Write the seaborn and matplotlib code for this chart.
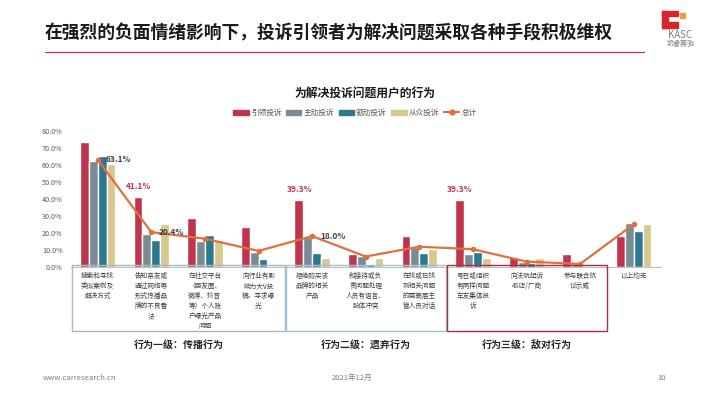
import numpy as np
import pandas as pd
import matplotlib.pyplot as plt
import seaborn as sns
from matplotlib.patches import Rectangle
from matplotlib.lines import Line2D

sns.set_style('white')
plt.rcParams['font.family'] = ['Noto Sans CJK SC', 'DejaVu Sans']

# data
categories = ['搜索和寻找\n类似案例及\n解决方式',
              '告知亲友或\n通过网络等\n形式传播品\n牌的不良看\n法',
              '在社交平台\n（朋友圈、\n微博、抖音\n等）个人账\n户曝光产品\n问题',
              '向行业有影\n响力大V投\n稿，寻求曝\n光',
              '拒绝购买该\n品牌的相关\n产品',
              '和接待或负\n责问题处理\n人员有语言、\n肢体冲突',
              '在找或已找\n到相关问题\n的更高层主\n管人员对话',
              '号召或组织\n有同样问题\n车友集体投\n诉',
              '向法院起诉\n4S店/厂商',
              '参与联合抗\n议示威',
              '以上均无']
series = ['引领投诉', '主动投诉', '驱动投诉', '从众投诉']
lead = [73.3, 41.1, 28.9, 23.6, 39.3, 7.3, 18.1, 39.3, 5.5, 7.3, 18.1]
active = [62.1, 19.3, 15.3, 8.5, 17.7, 6.1, 11.4, 7.5, 3.0, 1.4, 26.0]
driven = [65.3, 15.9, 18.5, 4.4, 8.3, 1.4, 8.1, 8.8, 2.0, 0.0, 21.2]
follow = [60.4, 25.2, 15.7, 0.0, 5.1, 5.1, 10.4, 5.1, 5.1, 0.0, 25.2]
total = [63.1, 20.4, 16.5, 9.3, 18.0, 6.0, 11.8, 10.3, 3.0, 1.6, 25.0]
levels = ['行为一级：传播行为', '行为二级：遗弃行为', '行为三级：敌对行为']
level_spans = [(0, 4), (4, 7), (7, 10)]

colors = ['#C0354B', '#798C95', '#2B7891', '#D8C88B']
line_color = '#E0703F'

df = pd.DataFrame({'cat': categories * 4,
                   'series': np.repeat(series, len(categories)),
                   'value': lead + active + driven + follow})

W, H = 710, 399
fig = plt.figure(figsize=(W / 100, H / 100), dpi=100)
ax = fig.add_axes([70.9 / W, 1 - 266.7 / H, 589.6 / W, 135.7 / H])

sns.barplot(data=df, x='cat', y='value', hue='series', palette=colors,
            width=0.66, ax=ax, legend=False, saturation=1)
sns.lineplot(x=np.arange(len(total)), y=total, color=line_color, lw=1.6,
             marker='o', markersize=4, markeredgewidth=0, ax=ax)

ax.set_xlim(-0.5, len(categories) - 0.5)
ax.set_ylim(0, 80)
ax.set_yticks(np.arange(0, 81, 10))
ax.set_yticklabels([f'{v:.1f}%' for v in np.arange(0, 81, 10)], fontsize=5.2, color='#595959')
ax.tick_params(axis='y', length=0, pad=6)
ax.set_xticks([])
ax.set_xlabel('')
ax.set_ylabel('')
for s in ['top', 'right', 'left']:
    ax.spines[s].set_visible(False)
ax.spines['bottom'].set_color('#BFBFBF')
ax.spines['bottom'].set_linewidth(0.8)

# data labels
ax.text(0.14, 63.1, '63.1%', fontsize=6, fontweight='bold', color='#404040', va='center')
ax.text(1.13, 20.4, '20.4%', fontsize=6, fontweight='bold', color='#404040', va='center')
ax.text(4.15, 18.0, '18.0%', fontsize=6, fontweight='bold', color='#404040', va='center')
for i in [1, 4, 7]:
    ax.text(i - 0.24, lead[i] + 3.5, f'{lead[i]:.1f}%', fontsize=6, fontweight='bold',
            color='#C0354B', ha='center', va='bottom')

# category labels under the axis
for i, c in enumerate(categories):
    x = (70.9 + 53.6 * (i + 0.5)) / W
    fig.text(x, 1 - 272 / H, c, fontsize=4.8, color='#404040', ha='center', va='top',
             linespacing=1.33)

# boxes around the behaviour levels
box_colors = ['#A8B7C2', '#9DC4DC', '#A8303F']
for (a, b), col, lab in zip(level_spans, box_colors, levels):
    x0 = (70.9 + 53.6 * a + 1) / W
    x1 = (70.9 + 53.6 * b) / W
    fig.add_artist(Rectangle((x0, 1 - 330.5 / H), x1 - x0, (330.5 - 264.5) / H,
                             fill=False, edgecolor=col, lw=1.0, transform=fig.transFigure))
    fig.text((x0 + x1) / 2, 1 - 345 / H, lab, fontsize=7.2, fontweight='bold',
             color='#262626', ha='center', va='center')

# legend
handles = [Rectangle((0, 0), 1, 1, color=c) for c in colors]
handles.append(Line2D([], [], color=line_color, lw=1.6, marker='o', markersize=3.5))
fig.legend(handles, series + ['总计'], loc='center', bbox_to_anchor=(355 / W, 1 - 113 / H),
           ncol=5, frameon=False, fontsize=5.5, handlelength=2.0, handleheight=0.7,
           handletextpad=0.3, columnspacing=0.6, labelcolor='#595959')

# titles
fig.text(45 / W, 1 - 33 / H, '在强烈的负面情绪影响下，投诉引领者为解决问题采取各种手段积极维权',
         fontsize=12.8, fontweight='bold', color='#1A1A1A', va='center')
fig.add_artist(Line2D([45 / W, 644 / W], [1 - 52 / H, 1 - 52 / H], color='#C0354B', lw=0.9))
fig.text(365 / W, 1 - 93 / H, '为解决投诉问题用户的行为', fontsize=8.5, fontweight='bold',
         color='#1A1A1A', ha='center', va='center')

# logo
logo_red = '#D7242F'
for (lx, ly, lw_, lh) in [(662, 11, 16, 5), (662, 11, 6, 17), (662, 22, 16, 6)]:
    fig.add_artist(Rectangle((lx / W, 1 - (ly + lh) / H), lw_ / W, lh / H, color=logo_red,
                             transform=fig.transFigure))
fig.add_artist(Rectangle((680 / W, 1 - 18 / H), 5 / W, 5 / H, color='#F29A38',
                         transform=fig.transFigure))
fig.text(680 / W, 1 - 35 / H, 'KASC', fontsize=7, color='#7F7F7F', ha='center', va='center')
fig.text(680 / W, 1 - 44 / H, '凯睿赛驰', fontsize=5, color='#7F7F7F', ha='center', va='center')

# footer
fig.text(43 / W, 1 - 378 / H, 'www.carresearch.cn', fontsize=5.5, color='#7F7F7F', va='center')
fig.text(352 / W, 1 - 378 / H, '2021年12月', fontsize=5.5, color='#7F7F7F', ha='center', va='center')
fig.text(662 / W, 1 - 378 / H, '10', fontsize=5.5, color='#7F7F7F', ha='center', va='center')

fig.savefig('out.png', dpi=100)
